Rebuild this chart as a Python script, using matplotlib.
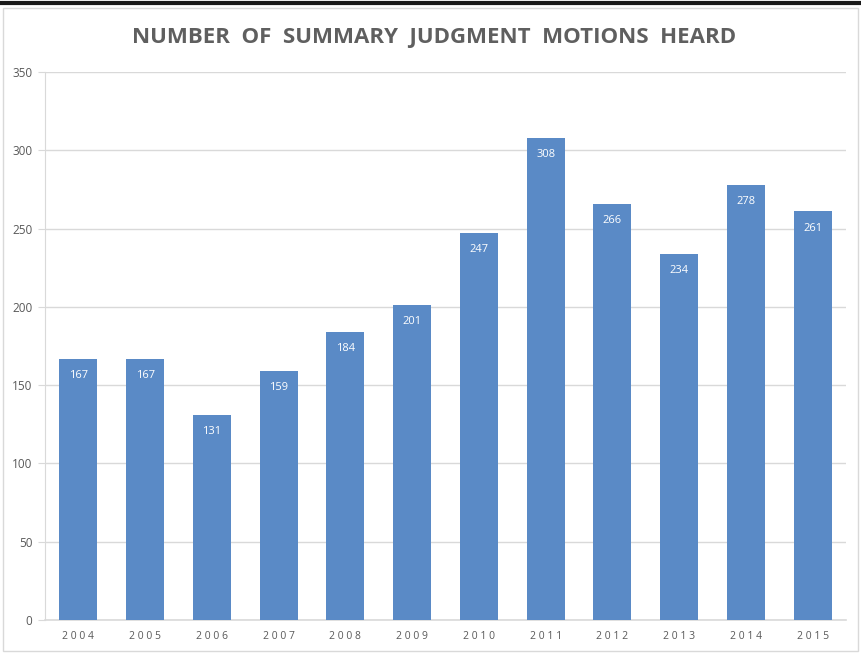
import matplotlib
matplotlib.use("Agg")
import matplotlib.pyplot as plt
from matplotlib.patches import Rectangle
from matplotlib.lines import Line2D

years = ["2004", "2005", "2006", "2007", "2008", "2009", "2010", "2011", "2012", "2013", "2014", "2015"]
motions = [167, 167, 131, 159, 184, 201, 247, 308, 266, 234, 278, 261]
yticks = [0, 50, 100, 150, 200, 250, 300, 350]
title = "NUMBER  OF  SUMMARY  JUDGMENT  MOTIONS  HEARD"

plt.rcParams['font.family'] = ['Open Sans', 'DejaVu Sans']

fig = plt.figure(figsize=(8.61, 6.53), dpi=100)
ax = fig.add_axes([45/861, 1-620/653, (846-45)/861, (620-72)/653])

x = list(range(len(years)))
bars = ax.bar(x, motions, width=0.57, color='#5a8ac6', zorder=3)
for xi, v in zip(x, motions):
    ax.annotate(str(v), (xi, v), xytext=(0, -12), textcoords='offset points',
                ha='center', va='center', color='white', fontsize=8, zorder=4)

ax.set_xlim(-0.5, len(years)-0.5)
ax.set_ylim(0, 350)
ax.set_yticks(yticks)
ax.set_yticklabels([str(t) for t in yticks], color='#595959', fontsize=8.5)
ax.set_xticks(x)
ax.set_xticklabels([" ".join(y) for y in years], color='#595959', fontsize=7.5)
ax.tick_params(axis='x', length=0, pad=8)
ax.tick_params(axis='y', length=5, color='#d9d9d9', pad=4)
ax.grid(axis='y', color='#d9d9d9', linewidth=1, zorder=0)
for s in ['top', 'right']:
    ax.spines[s].set_visible(False)
ax.spines['left'].set_color('#d9d9d9')
ax.spines['bottom'].set_color('#d9d9d9')
ax.spines['bottom'].set_linewidth(1.2)

fig.text(434/861, 1-37/653, title, ha='center', va='center', fontsize=16,
         fontweight='bold', color='#5f5f5f')

# frame
fig.add_artist(Rectangle((3/861, 2/653), (858-3)/861, (645-2)/653, transform=fig.transFigure,
                         fill=False, edgecolor='#d9d9d9', linewidth=1))
fig.add_artist(Line2D([0, 1], [1-3/653, 1-3/653], transform=fig.transFigure,
                      color='#1a1a1a', linewidth=3))

fig.savefig("out.png", dpi=100)
